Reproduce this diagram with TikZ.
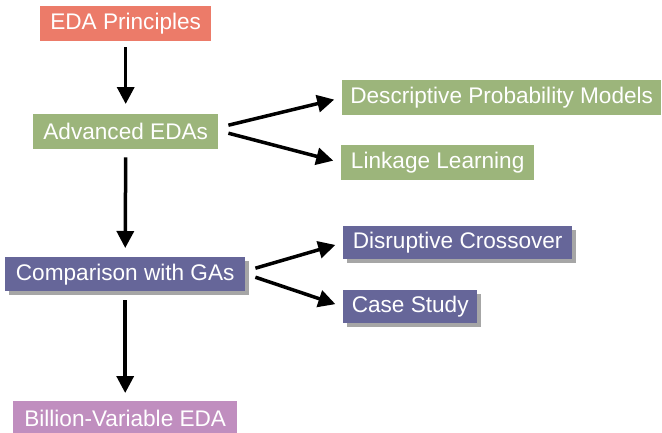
\documentclass[tikz,border=0pt]{standalone}
\usepackage{fontspec}
\setmainfont{Liberation Sans}
\usetikzlibrary{arrows.meta,calc,shadows}
\definecolor{salmon}{HTML}{EC7B69}
\definecolor{sage}{HTML}{9CB57B}
\definecolor{slate}{HTML}{666699}
\definecolor{orchid}{HTML}{C08EBF}
\begin{document}
\begin{tikzpicture}[x=1pt,y=-1pt,
  topic/.style={anchor=north west, inner sep=0pt, text=white,
    font=\fontsize{22.6}{26}\selectfont},
  shadowed/.style={drop shadow={shadow xshift=4pt, shadow yshift=-4pt,
    fill=black!35, opacity=1}},
  link/.style={line width=3.5pt, -{Triangle[width=17pt,length=17pt]}}]
\useasboundingbox (0,0) rectangle (662,432);

% topic boxes
\node[topic, fill=salmon, minimum width=171pt, minimum height=35pt] (eda) at (40,6) {EDA Principles};
\node[topic, fill=sage, minimum width=185pt, minimum height=35pt] (adv) at (33,114) {Advanced EDAs};
\node[topic, fill=sage, minimum width=319pt, minimum height=35pt] (desc) at (342,80) {Descriptive Probability Models};
\node[topic, fill=sage, minimum width=193pt, minimum height=35pt] (lnk) at (341,145) {Linkage Learning};
\node[topic, shadowed, fill=slate, minimum width=240pt, minimum height=34pt] (comp) at (5,257) {Comparison with GAs};
\node[topic, shadowed, fill=slate, minimum width=229pt, minimum height=33pt] (disr) at (343,226) {Disruptive Crossover};
\node[topic, shadowed, fill=slate, minimum width=134pt, minimum height=33pt] (case) at (343,290) {Case Study};
\node[topic, fill=orchid, minimum width=224pt, minimum height=35pt] (bill) at (13,401) {Billion-Variable EDA};

% main chain
\draw[link, shorten <=6pt, shorten >=10pt] (eda.south) -- (adv.north);
\draw[link, shorten <=8pt, shorten >=9pt] (adv.south) -- (comp.north);
\draw[link, shorten <=9pt, shorten >=8pt] (comp.south) -- (bill.north);

% branches
\draw[link, shorten >=8pt] ($(adv.east)+(10,-6.5)$) -- (desc.west);
\draw[link, shorten >=8pt] ($(adv.east)+(10,1.5)$) -- (lnk.west);
\draw[link, shorten >=8pt] ($(comp.east)+(10,-6)$) -- (disr.west);
\draw[link, shorten >=8pt] ($(comp.east)+(10,3)$) -- (case.west);
\end{tikzpicture}
\end{document}
